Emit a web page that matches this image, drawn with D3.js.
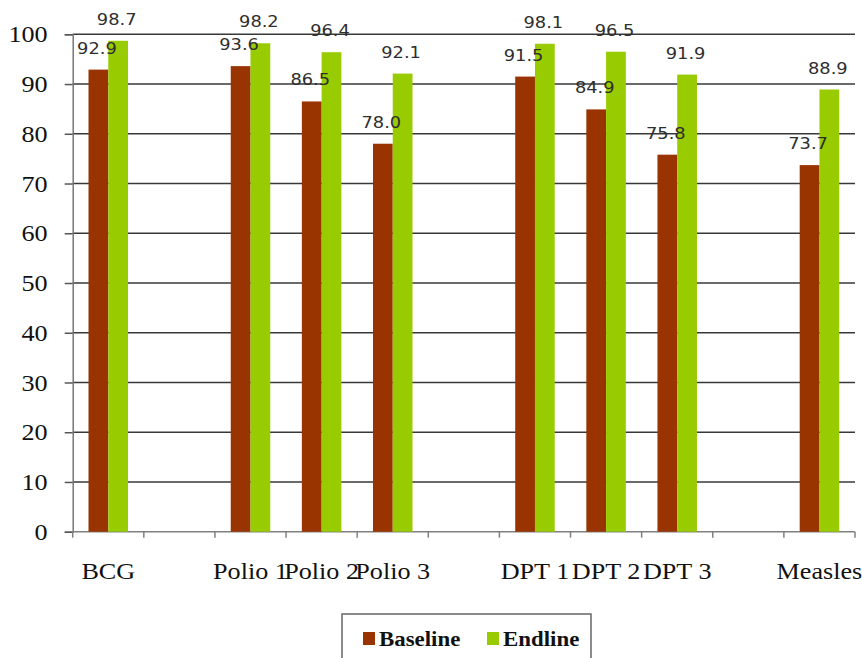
<!DOCTYPE html>
<html>
<head>
<meta charset="utf-8">
<script src="https://cdn.jsdelivr.net/npm/d3@7"></script>
<style>
  html, body { margin: 0; padding: 0; background: #fff; }
  svg { display: block; }
</style>
</head>
<body>
<svg id="chart" width="862" height="658"></svg>
<script>
// Immunisation coverage (%) at baseline and endline
const categories = ["BCG", "Polio 1", "Polio 2", "Polio 3", "DPT 1", "DPT 2", "DPT 3", "Measles"];
const baseline   = [92.9, 93.6, 86.5, 78.0, 91.5, 84.9, 75.8, 73.7];
const endline    = [98.7, 98.2, 96.4, 92.1, 98.1, 96.5, 91.9, 88.9];
const seriesNames = ["Baseline", "Endline"];
const seriesColors = ["#993300", "#99cc00"];
const yTicks = [0, 10, 20, 30, 40, 50, 60, 70, 80, 90, 100];
// category axis slots: vaccine groups are separated by empty slots
const axisSlots = ["BCG", "", "Polio 1", "Polio 2", "Polio 3", "", "DPT 1", "DPT 2", "DPT 3", "", "Measles"];

const svg = d3.select("#chart");
const plotLeft = 72.7, plotRight = 855, plotTop = 34.3, plotBottom = 531.7;
const SX = 1.09;      // horizontal stretch for serif text
const SX_VAL = 1.15;  // horizontal stretch for value labels
const serif = "'Liberation Serif', 'Times New Roman', Times, serif";

const x = d3.scaleBand().domain(d3.range(axisSlots.length)).range([plotLeft, plotRight]).padding(0);
const xs = d3.scaleBand().domain(seriesNames).range([0, x.bandwidth()]).paddingInner(0).paddingOuter(0.8);
const y = d3.scaleLinear().domain([0, 100]).range([plotBottom, plotTop]);

const slotOf = name => axisSlots.indexOf(name);

// horizontal gridlines
svg.append("g")
  .selectAll("line")
  .data(yTicks.filter(d => d > 0))
  .join("line")
  .attr("x1", plotLeft).attr("x2", plotRight)
  .attr("y1", d => y(d)).attr("y2", d => y(d))
  .attr("stroke", "#383838").attr("stroke-width", 1.6);

// y axis
const yAxis = svg.append("g")
  .attr("transform", `translate(${plotLeft},0)`)
  .call(d3.axisLeft(y).tickValues(yTicks).tickSize(8).tickPadding(15).tickFormat(d3.format("d")));
yAxis.attr("font-family", serif).attr("font-size", 24);
yAxis.select(".domain").attr("stroke", "#777").attr("stroke-width", 1.5);
yAxis.selectAll(".tick line").attr("stroke", "#555").attr("stroke-width", 1.5);
yAxis.selectAll(".tick text")
  .style("font-family", serif)
  .attr("font-size", 24)
  .attr("fill", "#111")
  .attr("transform", `scale(${SX},1)`);

// x axis baseline and slot boundary ticks
svg.append("line")
  .attr("x1", plotLeft).attr("x2", plotRight)
  .attr("y1", y(0)).attr("y2", y(0))
  .attr("stroke", "#808080").attr("stroke-width", 1.5);
svg.append("g")
  .selectAll("line")
  .data(d3.range(axisSlots.length + 1))
  .join("line")
  .attr("x1", i => plotLeft + i * x.step()).attr("x2", i => plotLeft + i * x.step())
  .attr("y1", y(0)).attr("y2", y(0) + 6)
  .attr("stroke", "#808080").attr("stroke-width", 1.5);

// category labels
svg.append("g")
  .selectAll("text")
  .data(axisSlots.map((name, i) => ({ name, i })).filter(d => d.name))
  .join("text")
  .attr("transform", d => `translate(${x(d.i) + x.bandwidth() / 2},${y(0) + 47}) scale(${SX},1)`)
  .attr("text-anchor", "middle")
  .style("font-family", serif)
  .attr("font-size", 24)
  .attr("fill", "#111")
  .text(d => d.name);

// bars
const rows = categories.map((c, i) => ({ cat: c, values: [baseline[i], endline[i]] }));
const groups = svg.append("g")
  .selectAll("g")
  .data(rows)
  .join("g")
  .attr("transform", d => `translate(${x(slotOf(d.cat))},0)`);

groups.selectAll("rect")
  .data(d => d.values.map((v, k) => ({ s: seriesNames[k], v, k })))
  .join("rect")
  .attr("x", d => xs(d.s))
  .attr("width", xs.bandwidth())
  .attr("y", d => y(d.v))
  .attr("height", d => y(0) - y(d.v))
  .attr("fill", d => seriesColors[d.k]);

// value labels
groups.selectAll("text")
  .data(d => d.values.map((v, k) => ({ s: seriesNames[k], v, k })))
  .join("text")
  .attr("transform", d => `translate(${xs(d.s) + xs.bandwidth() / 2 - 1.5},${y(d.v) - 16}) scale(${SX_VAL},1)`)
  .attr("text-anchor", "middle")
  .style("font-family", "'DejaVu Sans', Verdana, sans-serif")
  .attr("font-size", 15.5)
  .attr("fill", "#2e2e2e")
  .text(d => d3.format(".1f")(d.v));

// legend
const legend = svg.append("g");
legend.append("rect")
  .attr("x", 342).attr("y", 614)
  .attr("width", 249).attr("height", 60)
  .attr("fill", "#fff").attr("stroke", "#666").attr("stroke-width", 1.5);
const legendX = [363, 487];
const items = legend.selectAll("g")
  .data(seriesNames)
  .join("g")
  .attr("transform", (d, i) => `translate(${legendX[i]},632)`);
items.append("rect")
  .attr("width", 12).attr("height", 13)
  .attr("fill", (d, i) => seriesColors[i]);
items.append("text")
  .attr("transform", `translate(16,14) scale(${SX},1)`)
  .style("font-family", serif)
  .attr("font-weight", "bold")
  .attr("font-size", 21)
  .attr("fill", "#111")
  .text(d => d);
</script>
</body>
</html>
